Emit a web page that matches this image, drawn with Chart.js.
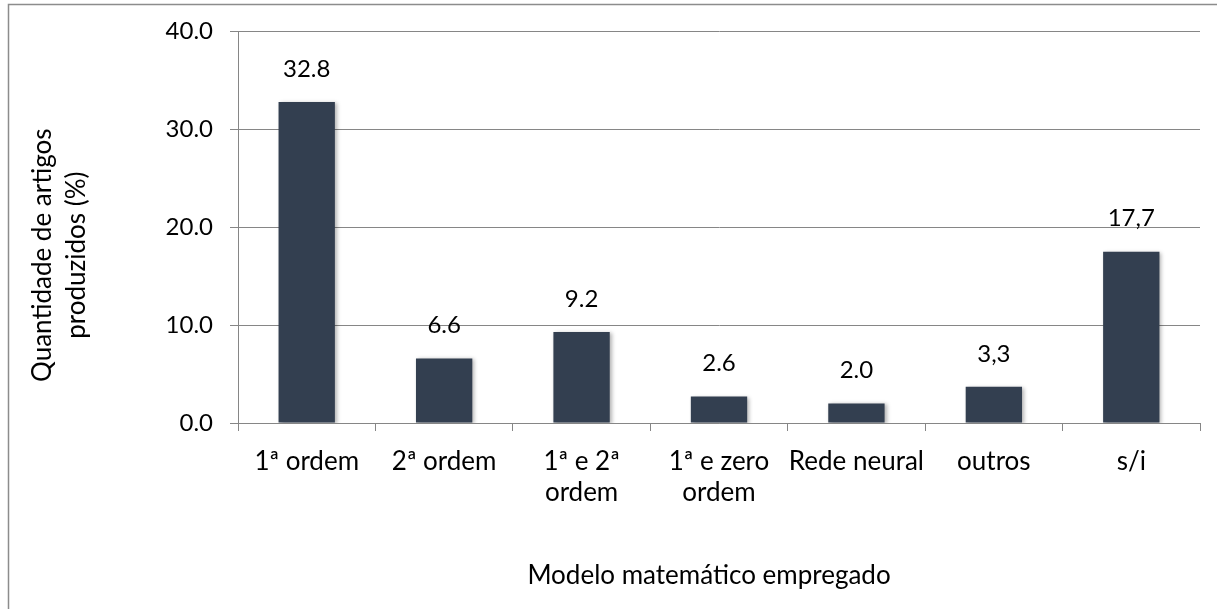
<!DOCTYPE html>
<html>
<head>
<meta charset="utf-8">
<script src="https://cdn.jsdelivr.net/npm/chart.js@4/dist/chart.umd.min.js"></script>
<style>
  body { margin: 0; background: #fff; }
  #wrap { width: 1217px; height: 609px; position: relative; }
</style>
</head>
<body>
<div id="wrap"><canvas id="myBarChart"></canvas></div>
<script>
// categorias e valores
const categories = [['1ª ordem'], ['2ª ordem'], ['1ª e 2ª', 'ordem'], ['1ª e zero', 'ordem'], ['Rede neural'], ['outros'], ['s/i']];
const values = [32.8, 6.6, 9.3, 2.7, 2.0, 3.7, 17.5];
const valueLabels = ['32.8', '6.6', '9.2', '2.6', '2.0', '3,3', '17,7'];
const yTicks = [0, 10, 20, 30, 40];
const yTitle = ['Quantidade de artigos', 'produzidos (%)'];
const xTitle = 'Modelo matemático empregado';

const FONT = 'Lato, "Liberation Sans", sans-serif';
const GRID = '#868686';

// moldura (linha superior e esquerda)
const framePlugin = {
  id: 'frame',
  beforeDraw(chart) {
    const c = chart.ctx;
    c.save();
    c.strokeStyle = '#8c8c8c';
    c.lineWidth = 1.5;
    c.beginPath();
    c.moveTo(8.5, 609);
    c.lineTo(8.5, 4.5);
    c.lineTo(1217, 4.5);
    c.stroke();
    c.restore();
  }
};

// sombra leve nas barras
const shadowPlugin = {
  id: 'barShadow',
  beforeDatasetDraw(chart) {
    const c = chart.ctx;
    c.save();
    c.shadowColor = 'rgba(0,0,0,0.3)';
    c.shadowBlur = 4;
    c.shadowOffsetX = 2;
    c.shadowOffsetY = 1;
  },
  afterDatasetDraw(chart) {
    chart.ctx.restore();
  }
};

// rótulos acima das barras + títulos dos eixos
const labelPlugin = {
  id: 'valueLabels',
  afterDatasetsDraw(chart) {
    const c = chart.ctx;
    const meta = chart.getDatasetMeta(0);
    const area = chart.chartArea;
    c.save();
    c.font = '24px ' + FONT;
    c.fillStyle = '#000';
    c.textAlign = 'center';
    c.textBaseline = 'middle';
    meta.data.forEach(function(bar, i) {
      c.fillText(valueLabels[i], bar.x, bar.y - 33);
    });

    c.font = '26px ' + FONT;
    c.fillText(xTitle, (area.left + area.right) / 2 - 10, 576);

    c.translate(0, (area.top + area.bottom) / 2 + 28);
    c.rotate(-Math.PI / 2);
    c.fillText(yTitle[0], 0, 43);
    c.fillText(yTitle[1], 0, 77);
    c.restore();
  }
};

var ctx = document.getElementById('myBarChart');
var myBarChart = new Chart(ctx, {
  type: 'bar',
  data: {
    labels: categories,
    datasets: [{
      data: values,
      backgroundColor: '#333f50',
      borderWidth: 0,
      barPercentage: 0.41,
      categoryPercentage: 1
    }]
  },
  options: {
    responsive: true,
    maintainAspectRatio: false,
    animation: false,
    layout: { padding: { left: 10, right: 17, top: 22, bottom: 0 } },
    plugins: {
      legend: { display: false },
      tooltip: { enabled: false }
    },
    scales: {
      x: {
        offset: true,
        grid: {
          offset: true,
          drawOnChartArea: false,
          drawTicks: true,
          tickLength: 8,
          color: GRID
        },
        border: { display: true, color: GRID },
        ticks: {
          color: '#000',
          font: { family: FONT, size: 26, lineHeight: 1.19 },
          padding: 15,
          maxRotation: 0,
          autoSkip: false
        },
        afterFit: function(scale) { scale.height = 186; }
      },
      y: {
        min: 0,
        max: 40,
        afterBuildTicks: function(scale) {
          scale.ticks = yTicks.map(function(v) { return { value: v }; });
        },
        grid: {
          color: GRID,
          drawTicks: true,
          tickLength: 8
        },
        border: { display: true, color: GRID },
        ticks: {
          color: '#000',
          font: { family: FONT, size: 24 },
          padding: 17,
          callback: function(value) { return Number(value).toFixed(1); }
        },
        afterFit: function(scale) { scale.width = 228; }
      }
    }
  },
  plugins: [framePlugin, shadowPlugin, labelPlugin]
});
</script>
</body>
</html>
